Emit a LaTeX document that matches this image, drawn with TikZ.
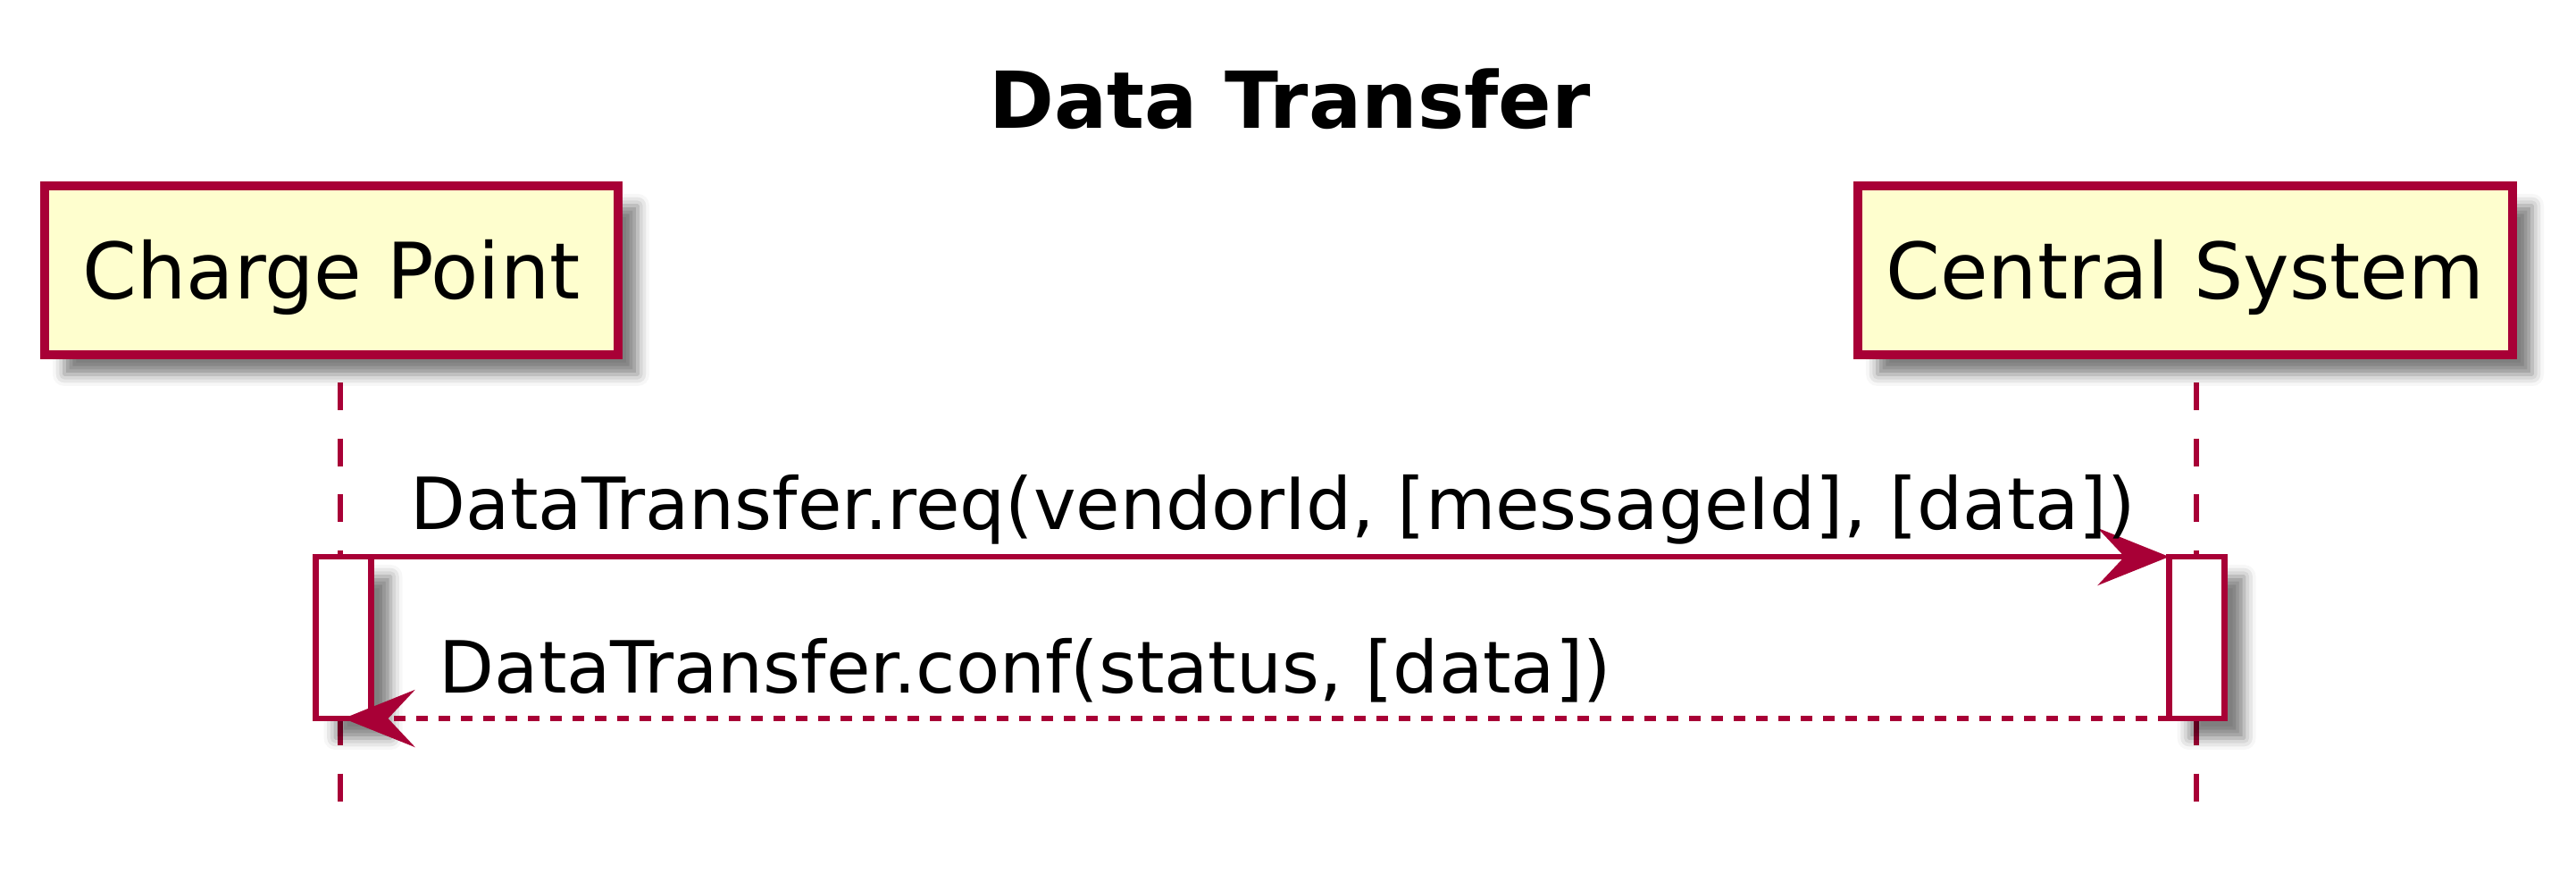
\documentclass[tikz,border=0pt]{standalone}
\usepackage{fontspec}
\setmainfont{DejaVu Sans}
\usetikzlibrary{arrows.meta,shadows.blur}
\definecolor{plumline}{HTML}{A80036}
\definecolor{partyfill}{HTML}{FEFECE}

\begin{document}
\begin{tikzpicture}[
    x=1cm,
    y=1cm,
    >={Stealth[length=0.8cm,width=0.64cm,inset=0.3cm]},
    drop/.style={blur shadow={shadow xshift=0.22cm,shadow yshift=-0.22cm,
        shadow blur radius=0.13cm,shadow opacity=50}},
    party/.style={draw=plumline,fill=partyfill,line width=2.6pt,inner sep=0pt,
        minimum height=1.89cm,text height=0.63cm,text depth=0pt,
        font=\fontsize{24.8}{29}\selectfont,drop},
    life/.style={plumline,line width=1.75pt,dash pattern=on 0.31cm off 0.315cm},
    act/.style={draw=plumline,fill=white,line width=1.75pt,inner sep=0pt,
        outer sep=0pt,minimum width=0.62cm,minimum height=1.81cm,drop},
    call/.style={plumline,line width=1.75pt,->},
    reply/.style={call,dash pattern=on 0.125cm off 0.125cm},
    msg/.style={anchor=base west,inner sep=0pt,font=\fontsize{22.9}{27}\selectfont}
]
    \useasboundingbox (0,0) rectangle (28.84,9.86);

    % Title
    \node[anchor=base,inner sep=0pt,font=\fontsize{25}{30}\selectfont\bfseries]
        (title) at (14.44,8.43) {Data Transfer};

    % Lifelines
    \coordinate (cptop) at (3.81,5.58);
    \coordinate (cpbot) at (3.81,0.89);
    \coordinate (cstop) at (24.59,5.58);
    \coordinate (csbot) at (24.59,0.89);
    \draw[life] (cptop) -- (cpbot);
    \draw[life] (cstop) -- (csbot);

    % Participants
    \node[party,minimum width=6.42cm] (cp) at (3.71,6.835) {Charge Point};
    \node[party,minimum width=7.33cm] (cs) at (24.465,6.835) {Central System};

    % Activations
    \node[act] (acp) at (3.845,2.725) {};
    \node[act] (acs) at (24.595,2.725) {};

    % Messages
    \draw[call] (acp.north east) -- (acs.north west);
    \node[msg] (req) at (4.59,3.94) {DataTransfer.req(vendorId, [messageId], [data])};
    \draw[reply] (acs.south west) -- (acp.south);
    \node[msg] (conf) at (4.91,2.11) {DataTransfer.conf(status, [data])};
\end{tikzpicture}
\end{document}
